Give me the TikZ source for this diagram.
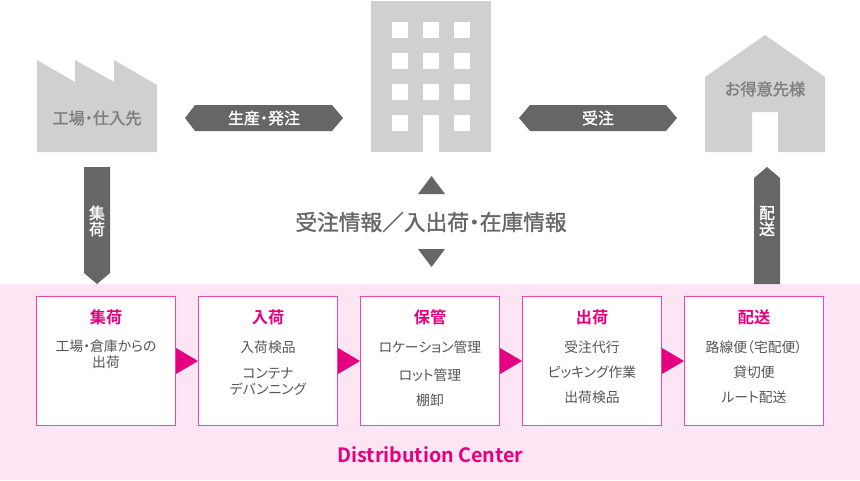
\documentclass[tikz,border=0pt]{standalone}
\usepackage{fontspec}
\setmainfont[RawFeature=+palt,BoldFont={Noto Sans CJK JP Bold}]{Noto Sans CJK JP}
\newfontfamily\medfont[RawFeature=+palt,FakeBold=1.4]{Noto Sans CJK JP}
\definecolor{lightgray}{HTML}{D0D0D0}
\definecolor{darkgray}{HTML}{666666}
\definecolor{textgray}{HTML}{555555}
\definecolor{labelgray}{HTML}{7F7F7F}
\definecolor{hotpink}{HTML}{E4007F}
\definecolor{boxpink}{HTML}{EE45A9}
\definecolor{bandpink}{HTML}{FDE5F4}
\tikzset{
   box/.style={draw=boxpink,fill=white,line width=1pt,minimum width=139pt,minimum height=129pt,inner sep=0pt},
   head/.style={text=hotpink,font=\fontsize{16.2}{16.5}\selectfont\bfseries,inner sep=0pt},
   item/.style={text=textgray,font=\fontsize{13.8}{16}\selectfont,align=center,inner sep=0pt},
   tag/.style={text=white,font=\fontsize{16}{16}\selectfont\medfont,align=center,inner sep=0pt},
   place/.style={text=labelgray,font=\fontsize{16.2}{16}\selectfont\medfont,inner sep=0pt}
}

\begin{document}
\begin{tikzpicture}[x=1pt,y=-1pt]
   \useasboundingbox (0,0) rectangle (860,480);
   \fill[bandpink] (0,284) rectangle (860,480);
   % factory
   \fill[lightgray] (37,60) -- (75,82) -- (75,60) -- (114,82) -- (114,60) -- (157,85) -- (157,152) -- (37,152) -- cycle;
   \node[place] (factory) at (97,118) {工場・仕入先};
   % building
   \fill[lightgray] (371,1) rectangle (491,152);
   \foreach \x in {392,423,454}
      \foreach \y in {22,53,84,115}
         \fill[white] (\x,\y) rectangle ++(16,16);
   \fill[white] (423,120) rectangle (439,152);
   % house
   \fill[lightgray] (765,35) -- (825,77) -- (825,152) -- (778,152) -- (778,112) -- (752,112) -- (752,152) -- (705,152) -- (705,77) -- cycle;
   \node[place] (customer) at (765,89) {お得意先様};
   % arrows
   \fill[darkgray] (185,118) -- (195,105) -- (332,105) -- (343,118) -- (332,131) -- (195,131) -- cycle;
   \node[tag] (order) at (264,118) {生産・発注};
   \fill[darkgray] (519,118) -- (530,105) -- (666,105) -- (677,118) -- (666,131) -- (530,131) -- cycle;
   \node[tag] (receive) at (598,118) {受注};
   \fill[darkgray] (84,167) -- (110,167) -- (110,273) -- (97,284) -- (84,273) -- cycle;
   \node[tag] (pickup) at (97,221) {集\\荷};
   \fill[darkgray] (767,167) -- (780,178) -- (780,284) -- (754,284) -- (754,178) -- cycle;
   \node[tag] (delivery) at (767,221) {配\\送};
   % info
   \fill[darkgray] (431.5,176) -- (445,194) -- (418,194) -- cycle;
   \fill[darkgray] (418,249) -- (445,249) -- (431.5,267) -- cycle;
   \node[text=textgray!90,font=\fontsize{21.7}{21}\selectfont\medfont,inner sep=0pt] (info) at (431,222) {受注情報／入出荷・在庫情報};
   % boxes
   \node[box] (box1) at (106,361) {};
   \node[box] (box2) at (268,361) {};
   \node[box] (box3) at (430,361) {};
   \node[box] (box4) at (592,361) {};
   \node[box] (box5) at (754,361) {};
   \foreach \a/\b in {1/2,2/3,3/4,4/5}
      \fill[hotpink] (box\a.east) ++(0,-13) -- (box\b.west) -- ++(-22,13) -- cycle;
   \node[head] (head1) at (106,317) {集荷};
   \node[head] (head2) at (268,317) {入荷};
   \node[head] (head3) at (430,317) {保管};
   \node[head] (head4) at (592,317) {出荷};
   \node[head] (head5) at (754,317) {配送};
   \node[item,anchor=north] (item1) at (106,339.5) {工場・倉庫からの\\出荷};
   \node[item] (item2a) at (268,347) {入荷検品};
   \node[item,anchor=north] (item2b) at (268,367.5) {コンテナ\\デバンニング};
   \node[item] (item3a) at (430,347) {ロケーション管理};
   \node[item] (item3b) at (430,375) {ロット管理};
   \node[item] (item3c) at (430,400) {棚卸};
   \node[item] (item4a) at (592,347) {受注代行};
   \node[item] (item4b) at (592,372) {ピッキング作業};
   \node[item] (item4c) at (592,397) {出荷検品};
   \node[item] (item5a) at (754,347) {路線便（宅配便）};
   \node[item] (item5b) at (754,372) {貸切便};
   \node[item] (item5c) at (754,397) {ルート配送};
   \node[text=hotpink,font=\fontsize{19.7}{20}\selectfont\bfseries,inner sep=0pt] (center) at (430.5,455) {Distribution Center};
\end{tikzpicture}
\end{document}
